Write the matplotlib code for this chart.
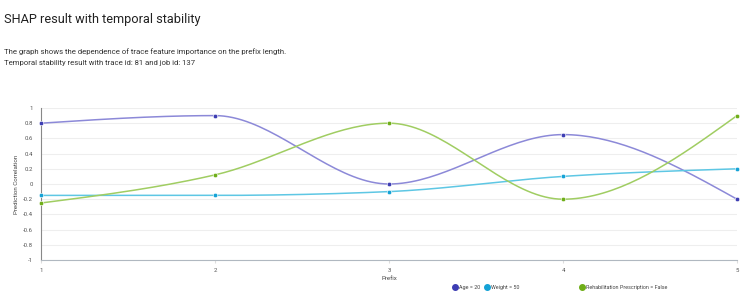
import numpy as np
import matplotlib
matplotlib.use("Agg")
import matplotlib.pyplot as plt

plt.rcParams['font.family'] = ['Roboto', 'DejaVu Sans']

prefix = [1, 2, 3, 4, 5]
age_20 = [0.80, 0.90, 0.0, 0.65, -0.20]
weight_50 = [-0.15, -0.15, -0.10, 0.10, 0.20]
rehab_false = [-0.25, 0.12, 0.80, -0.20, 0.90]
series_names = ["Age = 20", "Weight = 50", "Rehabilitation Prescription = False"]
y_ticks = [-1, -0.8, -0.6, -0.4, -0.2, 0, 0.2, 0.4, 0.6, 0.8, 1]

line_colors = ["#8c89d8", "#5ec7e4", "#a0cd62"]
marker_colors = ["#3d3db3", "#14a2d6", "#6fae18"]


def monotone_x(x, y, n=40):
    x = np.asarray(x, float); y = np.asarray(y, float)
    k = len(x)
    h = np.diff(x); s = np.diff(y) / h
    t = np.zeros(k)
    for i in range(1, k - 1):
        s0, s1 = s[i - 1], s[i]
        p = (s0 * h[i] + s1 * h[i - 1]) / (h[i - 1] + h[i])
        t[i] = (np.sign(s0) + np.sign(s1)) * min(abs(s0), abs(s1), 0.5 * abs(p))
    t[0] = (3 * s[0] - t[1]) / 2
    t[-1] = (3 * s[-1] - t[-2]) / 2
    xs, ys = [], []
    for i in range(k - 1):
        dx = h[i] / 3
        P0 = (x[i], y[i]); P1 = (x[i] + dx, y[i] + dx * t[i])
        P2 = (x[i + 1] - dx, y[i + 1] - dx * t[i + 1]); P3 = (x[i + 1], y[i + 1])
        u = np.linspace(0, 1, n)
        bx = (1-u)**3*P0[0] + 3*(1-u)**2*u*P1[0] + 3*(1-u)*u**2*P2[0] + u**3*P3[0]
        by = (1-u)**3*P0[1] + 3*(1-u)**2*u*P1[1] + 3*(1-u)*u**2*P2[1] + u**3*P3[1]
        xs.extend(bx); ys.extend(by)
    return np.array(xs), np.array(ys)


fig = plt.figure(figsize=(7.48, 2.98), dpi=100)
W, H = 748, 298
ax = fig.add_axes([41 / W, 1 - 260 / H, (737 - 41) / W, (260 - 108) / H])

fig.text(4 / W, 1 - 20 / H, "SHAP result with temporal stability", fontsize=9.2,
         color="#222222", va="center", ha="left")
fig.text(4 / W, 1 - 52 / H, "The graph shows the dependence of trace feature importance on the prefix length.",
         fontsize=5.55, color="#333333", va="center", ha="left")
fig.text(4 / W, 1 - 63 / H, "Temporal stability result with trace id: 81 and job id: 137",
         fontsize=5.55, color="#333333", va="center", ha="left")

for data, lc, mc in zip([age_20, weight_50, rehab_false], line_colors, marker_colors):
    xs, ys = monotone_x(prefix, data)
    ax.plot(xs, ys, color=lc, lw=1.1, zorder=3, clip_on=False)
    ax.plot(prefix, data, 'o', color=mc, ms=3.2, zorder=4, clip_on=False,
            markeredgecolor='white', markeredgewidth=0.4)

ax.set_xlim(1, 5)
ax.set_ylim(-1, 1)
ax.set_xticks(prefix)
ax.set_xticklabels([str(p) for p in prefix])
ax.set_yticks(y_ticks)
ax.set_yticklabels([("%g" % v) for v in y_ticks])
ax.tick_params(axis='both', labelsize=4.3, colors="#555555", length=0, pad=6)
ax.tick_params(axis='x', length=2, color="#dddddd", pad=4)
ax.grid(axis='y', color="#eeeeee", lw=0.8)
ax.set_axisbelow(True)
for sp in ["top", "right"]:
    ax.spines[sp].set_visible(False)
ax.spines["left"].set_color("#888888")
ax.spines["bottom"].set_color("#b0b8c0")
ax.spines["left"].set_linewidth(0.8)
ax.spines["bottom"].set_linewidth(0.8)

ax.set_xlabel("Prefix", fontsize=4.4, color="#444444", labelpad=2)
ax.set_ylabel("Prediction Correlation", fontsize=4.4, color="#444444", labelpad=3)

# legend
leg_y = 1 - 287 / H
leg_items = [(455, series_names[0]), (487, series_names[1]), (582, series_names[2])]
for (px, name), mc in zip(leg_items, marker_colors):
    fig.lines.append(plt.Line2D([px / W], [leg_y], marker='o', color=mc, ms=4,
                                transform=fig.transFigure, figure=fig))
    fig.text((px + 4) / W, leg_y, name, fontsize=3.9, color="#444444", va="center", ha="left")

fig.savefig("out.png", dpi=100)
